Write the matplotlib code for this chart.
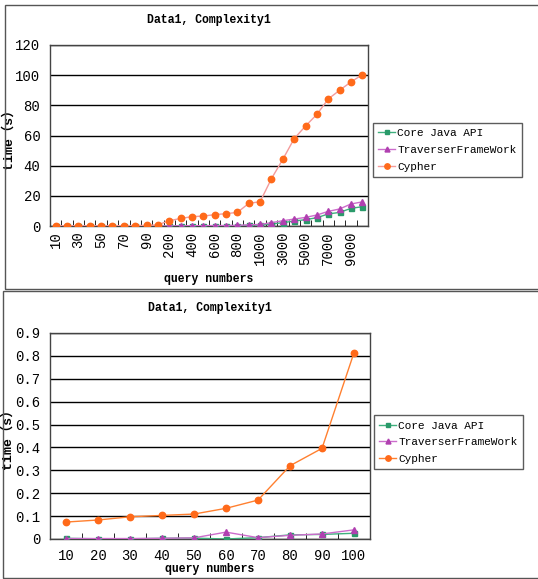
import numpy as np
import matplotlib
matplotlib.use('Agg')
import matplotlib.pyplot as plt
from matplotlib.patches import Rectangle

# --- datos: gráfico superior (10 .. 10000 consultas) ---
cats_top = ['10', '20', '30', '40', '50', '60', '70', '80', '90', '100',
            '200', '300', '400', '500', '600', '700', '800', '900', '1000',
            '2000', '3000', '4000', '5000', '6000', '7000', '8000', '9000', '10000']
core_top = [0.0, 0.0, 0.0, 0.0, 0.0, 0.0, 0.0, 0.0, 0.0, 0.0,
            0.1, 0.1, 0.1, 0.2, 0.2, 0.2, 0.3, 0.4, 0.8,
            1.3, 2.2, 3.3, 4.2, 5.5, 8.0, 9.0, 11.7, 12.8]
trav_top = [0.0, 0.0, 0.0, 0.0, 0.0, 0.0, 0.0, 0.0, 0.0, 0.0,
            0.1, 0.1, 0.2, 0.2, 0.3, 0.3, 0.4, 0.8, 1.0,
            2.2, 3.5, 4.6, 5.7, 7.3, 9.7, 11.3, 14.6, 16.0]
cyph_top = [0.07, 0.08, 0.1, 0.1, 0.11, 0.13, 0.17, 0.32, 0.4, 0.8,
            3.5, 5.0, 6.2, 6.6, 7.5, 8.2, 9.0, 15.0, 16.1,
            31.4, 44.2, 57.9, 66.3, 74.0, 84.2, 90.0, 95.5, 100.3]

# --- datos: gráfico inferior (10 .. 100 consultas) ---
cats_bot = ['10', '20', '30', '40', '50', '60', '70', '80', '90', '100']
core_bot = [0.003, 0.001, 0.001, 0.003, 0.004, 0.0, 0.006, 0.018, 0.02, 0.025]
trav_bot = [0.002, 0.002, 0.002, 0.003, 0.005, 0.03, 0.006, 0.016, 0.022, 0.04]
cyph_bot = [0.074, 0.083, 0.097, 0.103, 0.109, 0.134, 0.17, 0.32, 0.396, 0.814]

series_names = ['Core Java API', 'TraverserFrameWork', 'Cypher']

MONO = ['Liberation Mono', 'Noto Sans CJK SC']
GREEN_M, GREEN_L = '#2a9a6a', '#3fb07e'
MAG_M, MAG_L = '#b040b0', '#cc6ccc'
ORANGE = '#ff6a1a'

W, H = 538, 579
fig = plt.figure(figsize=(W / 100, H / 100), dpi=100)

# marcos de los paneles
fig.patches.append(Rectangle((5 / W, 1 - 289 / H), 540 / W, 284 / H,
                             transform=fig.transFigure, fill=False,
                             edgecolor='#555555', lw=1.0))
fig.patches.append(Rectangle((3 / W, 1 - 578 / H), 540 / W, 287 / H,
                             transform=fig.transFigure, fill=False,
                             edgecolor='#555555', lw=1.0))


def make_axes(x0, y0, x1, y1):
    return fig.add_axes([x0 / W, 1 - y1 / H, (x1 - x0) / W, (y1 - y0) / H])


def style_axes(ax, cats, ymax, ystep, yfmt):
    n = len(cats)
    x = np.arange(n)
    ax.set_xlim(-0.5, n - 0.5)
    ax.set_ylim(0, ymax)
    yt = np.arange(0, ymax + ystep / 2, ystep)
    ax.set_yticks(yt)
    ax.set_yticklabels([yfmt(v) for v in yt], family=MONO, fontsize=10)
    ax.grid(axis='y', color='black', lw=1.0)
    ax.set_axisbelow(True)
    # marcas entre categorías, hacia dentro
    ax.set_xticks(np.arange(n + 1) - 0.5, minor=True)
    ax.tick_params(axis='x', which='minor', direction='in', length=4, color='black')
    ax.tick_params(axis='x', which='major', length=0, pad=4)
    ax.tick_params(axis='y', length=0, pad=7)
    for s in ax.spines.values():
        s.set_color('#444444')
        s.set_linewidth(1.0)
    return x


def draw_series(ax, x, core, trav, cyph, cyph_line):
    ax.plot(x, core, color=GREEN_L, lw=1.0, marker='s', ms=3.6,
            mfc=GREEN_M, mec=GREEN_M, label=series_names[0], zorder=3)
    ax.plot(x, trav, color=MAG_L, lw=1.0, marker='^', ms=4.2,
            mfc=MAG_M, mec=MAG_M, label=series_names[1], zorder=3)
    ax.plot(x, cyph, color=cyph_line, lw=1.0, marker='o', ms=4.6,
            mfc=ORANGE, mec=ORANGE, label=series_names[2], zorder=4)


def add_legend(ax, bbox):
    leg = ax.legend(loc='center left', bbox_to_anchor=bbox,
                    prop={'family': 'Liberation Mono', 'size': 8},
                    frameon=True, fancybox=False, handlelength=1.5,
                    handletextpad=0.2, borderpad=0.5, labelspacing=0.6,
                    borderaxespad=0, markerscale=0.85)
    leg.get_frame().set_edgecolor('#333333')
    leg.get_frame().set_linewidth(1.0)


ylab_font = {'family': MONO, 'fontsize': 9.5, 'fontweight': 'bold'}

# --- gráfico superior ---
ax1 = make_axes(50, 45, 368, 226)
x1 = style_axes(ax1, cats_top, 120, 20, lambda v: f'{int(v)}')
draw_series(ax1, x1, core_top, trav_top, cyph_top, '#f49a9a')
ax1.set_xticks(x1[::2])
ax1.set_xticklabels(cats_top[::2], rotation=90, family=MONO, fontsize=10)
ax1.set_title('Data1, Complexity1', family=MONO, fontsize=8.3,
              fontweight='bold', pad=16)
ax1.set_xlabel('query numbers', family=MONO, fontsize=8.3,
               fontweight='bold', labelpad=6)
ax1.set_ylabel('time（s）', **ylab_font)
ax1.yaxis.set_label_coords((15 - 50) / 318, 0.5)
add_legend(ax1, (1.015, 0.42))

# --- gráfico inferior ---
ax2 = make_axes(50, 333, 370, 539)
x2 = style_axes(ax2, cats_bot, 0.9, 0.1, lambda v: '0' if v == 0 else f'{v:.1f}')
draw_series(ax2, x2, core_bot, trav_bot, cyph_bot, '#ff8030')
ax2.set_xticks(x2)
ax2.set_xticklabels(cats_bot, family=MONO, fontsize=10)
ax2.tick_params(axis='x', which='major', pad=7)
ax2.set_title('Data1, Complexity1', family=MONO, fontsize=8.3,
              fontweight='bold', pad=16)
ax2.set_xlabel('query numbers', family=MONO, fontsize=8.3,
               fontweight='bold', labelpad=0)
ax2.set_ylabel('time（s）', **ylab_font)
ax2.yaxis.set_label_coords((14 - 50) / 320, 0.5)
add_legend(ax2, (1.012, 0.47))

fig.savefig('out.png', dpi=100)
